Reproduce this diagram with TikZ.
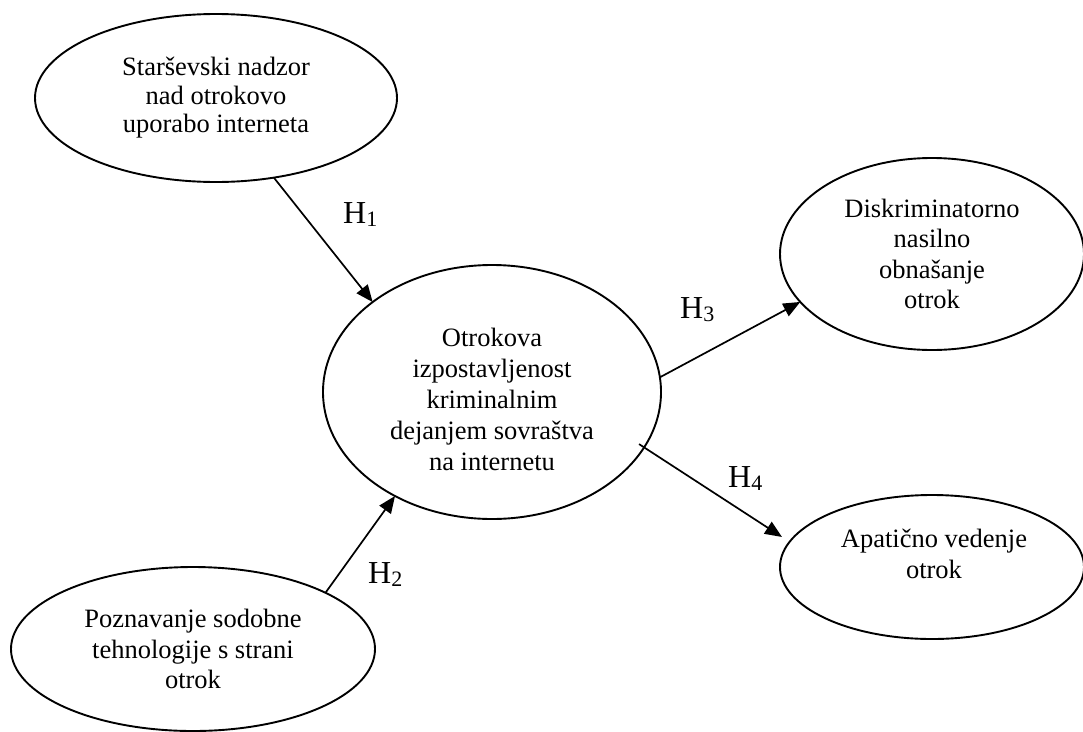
\documentclass[tikz,border=0pt]{standalone}
\usepackage{fontspec}
\setmainfont{Liberation Serif}
\usetikzlibrary{shapes.geometric,arrows.meta}
\newcommand{\hyplabel}[1]{H\raisebox{-3pt}{\fontsize{22}{22}\selectfont #1}}
\begin{document}
\begin{tikzpicture}[x=1pt,y=-1pt,
  oval/.style={ellipse, draw, line width=1.9pt, inner sep=0pt, outer sep=0pt, align=center, font=\fontsize{26.5}{30.5}\selectfont},
  ovaltext/.style={align=center, inner sep=0pt, font=\fontsize{26.5}{31}\selectfont},
  link/.style={line width=1.7pt, -{Triangle[length=17pt,width=14pt]}},
  hyp/.style={anchor=base west, inner sep=0pt, font=\fontsize{32}{32}\selectfont}]
\useasboundingbox (0,0) rectangle (1083,731);
\node[oval, minimum width=362pt, minimum height=168pt, font=\fontsize{26.5}{28.5}\selectfont] (sn) at (216,98) {Starševski nadzor\\nad otrokovo\\uporabo interneta};
\node[oval, minimum width=338pt, minimum height=254pt] (oi) at (492,392) {};
\node[ovaltext] (oit) at (492,399) {Otrokova\\izpostavljenost\\kriminalnim\\dejanjem sovraštva\\na internetu};
\node[oval, minimum width=364pt, minimum height=164pt] (pt) at (193,649) {Poznavanje sodobne\\tehnologije s strani\\otrok};
\node[oval, minimum width=304pt, minimum height=192pt] (dn) at (932,254) {Diskriminatorno\\nasilno\\obnašanje\\otrok};
\node[oval, minimum width=304pt, minimum height=144pt] (av) at (932,567) {};
\node[ovaltext] (avt) at (934,554) {Apatično vedenje\\otrok};
\draw[link] (sn.-54.9) -- (oi.143.4);
\draw[link] (pt.23.7) -- (oi.227.9);
\draw[link] (oi.5.8) -- (dn.200.8);
\draw[link, shorten <=-6pt, shorten >=9pt] (oi.-20.8) -- (av.170.7);
\node[hyp] (h1) at (343,223) {\hyplabel{1}};
\node[hyp] (h2) at (368,583) {\hyplabel{2}};
\node[hyp] (h3) at (680,318) {\hyplabel{3}};
\node[hyp] (h4) at (728,487) {\hyplabel{4}};
\end{tikzpicture}
\end{document}
